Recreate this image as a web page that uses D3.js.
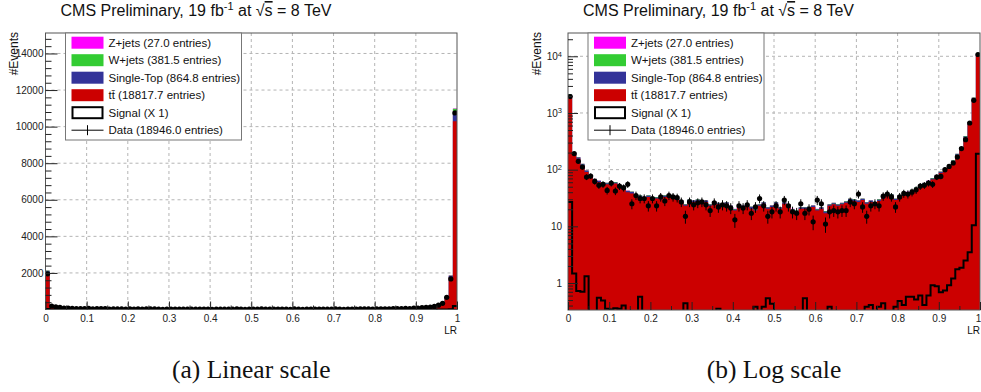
<!DOCTYPE html>
<html>
<head>
<meta charset="utf-8">
<script src="https://cdn.jsdelivr.net/npm/d3@7"></script>
<style>
  body { margin: 0; background: #fff; }
  svg { display: block; font-family: "Liberation Sans", Arial, sans-serif; }
</style>
</head>
<body>
<div id="chart"></div>
<script>
// LR distribution, 100 bins from 0 to 1
const nBins = 100;

const ttbar = [
  2000, 186, 156, 119, 91, 74, 65, 60, 57, 55,
  53, 57, 49, 44, 40, 38, 35, 33, 31, 33,
  31, 31, 30, 33, 34, 33, 29, 27, 23, 28,
  27, 28, 26, 27, 23, 26, 24.5, 23, 25, 22,
  19, 23, 22, 23, 20.5, 19, 23, 25, 20.5, 22,
  25, 20.5, 25, 23, 19, 18, 20.5, 20.5, 21, 22,
  19, 20.5, 17, 23, 24.5, 23, 24.5, 26, 29, 28,
  27, 29, 25, 27, 25, 28, 31, 35, 35, 29,
  33, 35, 38, 42, 46, 51, 55, 60, 67, 76,
  87, 100, 114, 137, 179, 235, 367, 650, 1750, 10300
];

const singleTop = [
  92, 8.6, 7.2, 5.5, 4.2, 3.4, 3.0, 2.8, 2.6, 2.5,
  2.4, 2.6, 2.3, 2.0, 1.8, 2.4, 1.6, 1.5, 1.4, 1.5,
  1.4, 1.4, 1.4, 1.5, 1.6, 1.5, 1.3, 1.2, 1.1, 1.3,
  1.2, 1.3, 1.2, 1.2, 1.1, 1.2, 1.1, 1.1, 1.2, 1.0,
  0.9, 1.1, 1.0, 1.1, 1.4, 0.9, 1.1, 1.2, 0.9, 1.0,
  1.2, 0.9, 1.2, 1.1, 0.9, 0.8, 0.9, 0.9, 1.0, 1.0,
  0.9, 0.9, 1.3, 1.1, 1.1, 1.1, 1.1, 1.2, 1.3, 1.3,
  1.2, 1.3, 1.2, 1.2, 1.2, 1.3, 1.4, 1.6, 1.6, 1.3,
  1.5, 1.6, 1.7, 1.9, 2.1, 2.3, 2.5, 2.8, 3.1, 3.5,
  4.0, 4.6, 5.2, 6.3, 8.2, 10.8, 16.9, 29.9, 80.5, 473.8
];

const wJets = [
  40, 3.7, 3.1, 2.4, 1.8, 1.5, 1.3, 1.2, 1.1, 1.1,
  1.1, 1.1, 1.0, 0.9, 0.8, 0.8, 0.7, 0.7, 0.6, 0.7,
  0.6, 0.6, 0.6, 0.7, 0.7, 0.7, 0.6, 0.5, 0.5, 0.6,
  0.5, 0.6, 0.5, 0.5, 0.5, 0.5, 0.5, 0.5, 0.5, 0.4,
  0.4, 0.5, 0.4, 0.5, 0.4, 0.4, 0.5, 0.5, 0.4, 0.4,
  0.5, 0.4, 0.5, 0.5, 0.4, 0.4, 0.4, 0.4, 0.4, 0.4,
  0.4, 0.4, 0.3, 0.5, 0.5, 0.5, 0.5, 0.5, 0.6, 0.6,
  0.5, 0.6, 0.5, 0.5, 0.5, 0.6, 0.6, 0.7, 0.7, 0.6,
  0.7, 0.7, 0.8, 0.8, 0.9, 1.0, 1.1, 1.2, 1.3, 1.5,
  1.7, 2.0, 2.3, 2.7, 3.6, 4.7, 7.3, 13, 35, 206
];

const zJets = [
  2.8, 0.3, 0.2, 0.2, 0.1, 0.1, 0.1, 0.1, 0.1, 0.1,
  0.1, 0.1, 0.1, 0.1, 0.1, 0.1, 0.05, 0.05, 0.05, 0.05,
  0.05, 0.05, 0.05, 0.05, 0.05, 0.05, 0.05, 0.05, 0.05, 0.05,
  0.05, 0.05, 0.05, 0.05, 0.05, 0.05, 0.05, 0.05, 0.05, 0.05,
  0.05, 0.05, 0.05, 0.05, 0.05, 0.05, 0.05, 0.05, 0.05, 0.05,
  0.05, 0.05, 0.05, 0.05, 0.05, 0.05, 0.05, 0.05, 0.05, 0.05,
  0.05, 0.05, 0.05, 0.05, 0.05, 0.05, 0.05, 0.05, 0.05, 0.05,
  0.05, 0.05, 0.05, 0.05, 0.05, 0.05, 0.05, 0.05, 0.05, 0.05,
  0.05, 0.05, 0.05, 0.1, 0.1, 0.1, 0.1, 0.1, 0.1, 0.1,
  0.1, 0.1, 0.2, 0.2, 0.3, 0.3, 0.5, 0.9, 2.5, 14.4
];

const signal = [
  27, 1.47, 0.72, 0.7, 1.31, 0, 0, 0.55, 0.49, 0.35,
  0.34, 0.36, 0.35, 0.4, 0, 0, 0, 0.57, 0, 0,
  0, 0, 0, 0, 0, 0, 0, 0, 0.44, 0,
  0, 0, 0, 0, 0, 0, 0.35, 0, 0, 0,
  0, 0, 0, 0, 0, 0.38, 0, 0.38, 0.54, 0.43,
  0, 0, 0, 0, 0, 0, 0, 0.54, 0, 0,
  0, 0, 0, 0.38, 0, 0, 0, 0, 0, 0,
  0, 0, 0.38, 0.41, 0, 0.38, 0.44, 0, 0, 0.38,
  0.48, 0.41, 0.57, 0.57, 0.51, 0.6, 0.41, 0.6, 0.91, 0.88,
  0.69, 0.74, 0.91, 1.2, 1.74, 1.85, 2.5, 3.5, 10.4, 190
];

const data = [
  1950, 192, 140, 111, 74, 77, 62, 53, 55, 43,
  58, 42, 51, 48, 55, 25, 35, 31, 31, 23,
  31, 23, 33, 28, 35, 33, 32, 27, 15, 27,
  24, 26, 27, 24, 19, 26, 22, 24, 23, 21,
  13, 23, 21, 24, 17, 22, 31, 23, 15, 18,
  23, 18, 29, 23, 18, 17, 25, 17, 20, 12,
  29, 25, 11, 18, 19, 18, 19, 19, 27, 25,
  37, 22, 15, 23, 25, 23, 34, 37, 33, 22,
  33, 38, 37, 40, 44, 51, 53, 58, 55, 74,
  76, 100, 114, 131, 167, 235, 338, 665, 1670, 10750
];

const legendLabels = [
  "Z+jets (27.0 entries)",
  "W+jets (381.5 entries)",
  "Single-Top (864.8 entries)",
  "t\u0074\u0304 (18817.7 entries)",
  "Signal (X 1)",
  "Data (18946.0 entries)"
];
const stackKeys = ["ttbar", "singleTop", "wJets", "zJets"];
const stackColors = { ttbar: "#cc0000", singleTop: "#333399", wJets: "#33cc33", zJets: "#ff00ff" };
const xTickLabels = d3.range(0, 11).map(i => i / 10);
const linTicks = [2000, 4000, 6000, 8000, 10000, 12000, 14000];
const logTicks = [1, 10, 100, 1000, 10000];
const captions = ["(a) Linear scale", "(b) Log scale"];

const width = 981, height = 392;

const svg = d3.select("#chart").append("svg")
  .attr("width", width)
  .attr("height", height)
  .attr("viewBox", [0, 0, width, height]);

const rows = ttbar.map((t, i) => ({
  bin: i, ttbar: t, singleTop: singleTop[i], wJets: wJets[i], zJets: zJets[i]
}));
const stacked = d3.stack().keys(stackKeys)(rows);

const panels = [
  { left: 45.5, right: 457, top: 33, bottom: 309.5, log: false, caption: captions[0] },
  { left: 568, right: 980, top: 33, bottom: 310, log: true, caption: captions[1] }
];

panels.forEach((p, pi) => {
  const x = d3.scaleLinear().domain([0, 1]).range([p.left, p.right]);
  const y = p.log
    ? d3.scaleLog().domain([0.334, 25760]).range([p.bottom, p.top])
    : d3.scaleLinear().domain([0, 15120]).range([p.bottom, p.top]);
  const yPx = v => (p.log && v <= 0) ? p.bottom + 10 : y(v);

  const clipId = "clip" + pi;
  svg.append("clipPath").attr("id", clipId)
    .append("rect")
    .attr("x", p.left).attr("y", p.top)
    .attr("width", p.right - p.left).attr("height", p.bottom - p.top);

  // grid
  const grid = svg.append("g")
    .attr("stroke", "#b4b4b4")
    .attr("stroke-dasharray", "3,3");
  grid.selectAll("line.vx")
    .data(xTickLabels.filter(d => d > 0 && d < 1))
    .join("line")
    .attr("x1", d => x(d)).attr("x2", d => x(d))
    .attr("y1", p.top).attr("y2", p.bottom);
  grid.selectAll("line.hy")
    .data(p.log ? logTicks : linTicks)
    .join("line")
    .attr("y1", d => y(d)).attr("y2", d => y(d))
    .attr("x1", p.left).attr("x2", p.right);

  const plot = svg.append("g").attr("clip-path", `url(#${clipId})`);

  // step points for a histogram
  const steps = vals => vals.flatMap((v, i) => [
    { x: x(i / nBins), v: v },
    { x: x((i + 1) / nBins), v: v }
  ]);

  // stacked MC, drawn back to front like THStack
  const area = d3.area()
    .x(d => d.x)
    .y0(p.bottom + 10)
    .y1(d => yPx(d.v));
  stacked.slice().reverse().forEach(layer => {
    plot.append("path")
      .attr("fill", stackColors[layer.key])
      .attr("d", area(steps(layer.map(s => s[1]))));
  });

  // signal outline
  const line = d3.line().x(d => d.x).y(d => yPx(d.v));
  plot.append("path")
    .attr("fill", "none")
    .attr("stroke", "#000")
    .attr("stroke-width", 2)
    .attr("d", line(steps(signal)));

  // data points
  const pts = plot.append("g");
  pts.selectAll("line")
    .data(data)
    .join("line")
    .attr("x1", (d, i) => x((i + 0.5) / nBins))
    .attr("x2", (d, i) => x((i + 0.5) / nBins))
    .attr("y1", d => yPx(d + Math.sqrt(d)))
    .attr("y2", d => yPx(Math.max(d - Math.sqrt(d), 1e-3)))
    .attr("stroke", "#000");
  pts.selectAll("circle")
    .data(data)
    .join("circle")
    .attr("cx", (d, i) => x((i + 0.5) / nBins))
    .attr("cy", d => yPx(d))
    .attr("r", 2.6)
    .attr("fill", "#000");

  // frame
  svg.append("rect")
    .attr("x", p.left).attr("y", p.top)
    .attr("width", p.right - p.left).attr("height", p.bottom - p.top)
    .attr("fill", "none")
    .attr("stroke", "#555");

  // x axis
  svg.append("g")
    .attr("transform", `translate(0,${p.bottom})`)
    .call(d3.axisBottom(x).tickValues(xTickLabels).tickSize(-8).tickPadding(5).tickFormat(d3.format("~g")))
    .call(g => g.select(".domain").remove())
    .call(g => g.selectAll(".tick text").filter(d => d === 1 && p.right > width - 4).attr("dx", -2))
    .attr("font-family", null)
    .attr("font-size", 10)
    .attr("color", "#222");
  svg.append("g")
    .attr("transform", `translate(0,${p.bottom})`)
    .call(d3.axisBottom(x).tickValues(d3.range(1, 20, 2).map(i => i / 20)).tickSize(-4).tickFormat(""))
    .call(g => g.select(".domain").remove())
    .attr("color", "#222");

  // y axis
  if (p.log) {
    svg.append("g")
      .attr("transform", `translate(${p.left},0)`)
      .call(d3.axisLeft(y).tickValues(logTicks).tickSize(-10).tickPadding(6)
        .tickFormat(d => d >= 100 ? "10" : String(d)))
      .call(g => g.select(".domain").remove())
      .call(g => g.selectAll(".tick text").each(function (d) {
        if (d >= 100) {
          d3.select(this).append("tspan")
            .attr("dy", "-0.45em")
            .attr("font-size", 7.5)
            .text(Math.round(Math.log10(d)));
        }
      }))
      .attr("font-family", null)
      .attr("font-size", 10)
      .attr("color", "#222");
    svg.append("g")
      .attr("transform", `translate(${p.left},0)`)
      .call(d3.axisLeft(y).tickValues(y.ticks().filter(d => !logTicks.includes(d))).tickSize(-5).tickFormat(""))
      .call(g => g.select(".domain").remove())
      .attr("color", "#222");
  } else {
    svg.append("g")
      .attr("transform", `translate(${p.left},0)`)
      .call(d3.axisLeft(y).tickValues(linTicks).tickSize(-12).tickPadding(2).tickFormat(d3.format("d")))
      .call(g => g.select(".domain").remove())
      .attr("font-family", null)
      .attr("font-size", 10)
      .attr("color", "#222");
    svg.append("g")
      .attr("transform", `translate(${p.left},0)`)
      .call(d3.axisLeft(y).tickValues(d3.range(400, 15120, 400).filter(d => d % 2000 !== 0)).tickSize(-6).tickFormat(""))
      .call(g => g.select(".domain").remove())
      .attr("color", "#222");
  }

  // axis titles
  svg.append("text")
    .attr("x", p.right).attr("y", 334)
    .attr("text-anchor", "end")
    .attr("font-size", 10)
    .attr("fill", "#111")
    .text("LR");
  svg.append("text")
    .attr("transform", `translate(${p.left - 27.5},${p.top - 1}) rotate(-90)`)
    .attr("text-anchor", "end")
    .attr("font-size", 12)
    .attr("fill", "#111")
    .text("#Events");

  // title
  const title = svg.append("text")
    .attr("x", p.left + 15).attr("y", 16)
    .attr("font-size", 16)
    .attr("fill", "#111");
  title.append("tspan").text("CMS Preliminary, 19 fb");
  title.append("tspan").attr("dy", -6).attr("font-size", 11).text("-1");
  title.append("tspan").attr("dy", 6).text(" at \u221A");
  title.append("tspan").style("text-decoration", "overline").text("s");
  title.append("tspan").text(" = 8 TeV");

  // legend
  const lg = svg.append("g").attr("transform", `translate(${p.left + 20},${p.top})`);
  lg.append("rect")
    .attr("width", 176).attr("height", 107)
    .attr("fill", "#fff")
    .attr("stroke", "#777");
  const items = lg.selectAll("g")
    .data(legendLabels)
    .join("g")
    .attr("transform", (d, i) => `translate(0,${9.7 + i * 17.5})`);
  items.each(function (d, i) {
    const it = d3.select(this);
    if (i < 4) {
      it.append("rect")
        .attr("x", 6).attr("y", -6).attr("width", 32).attr("height", 12)
        .attr("fill", stackColors[stackKeys[3 - i]]);
    } else if (i === 4) {
      it.append("rect")
        .attr("x", 7).attr("y", -5.5).attr("width", 30).attr("height", 11)
        .attr("fill", "#fff").attr("stroke", "#000").attr("stroke-width", 2);
    } else {
      it.append("line").attr("x1", 6).attr("x2", 38).attr("y1", 0).attr("y2", 0).attr("stroke", "#000");
      it.append("line").attr("x1", 22).attr("x2", 22).attr("y1", -5).attr("y2", 5).attr("stroke", "#000");
    }
    it.append("text")
      .attr("x", 43).attr("dy", "0.35em")
      .attr("font-size", 11.5)
      .attr("fill", "#111")
      .text(d);
  });

  // caption
  svg.append("text")
    .attr("x", (p.left + p.right) / 2).attr("y", 378)
    .attr("text-anchor", "middle")
    .attr("font-family", "'Liberation Serif', serif")
    .attr("font-size", 25.5)
    .attr("fill", "#111")
    .text(p.caption);
});
</script>
</body>
</html>
